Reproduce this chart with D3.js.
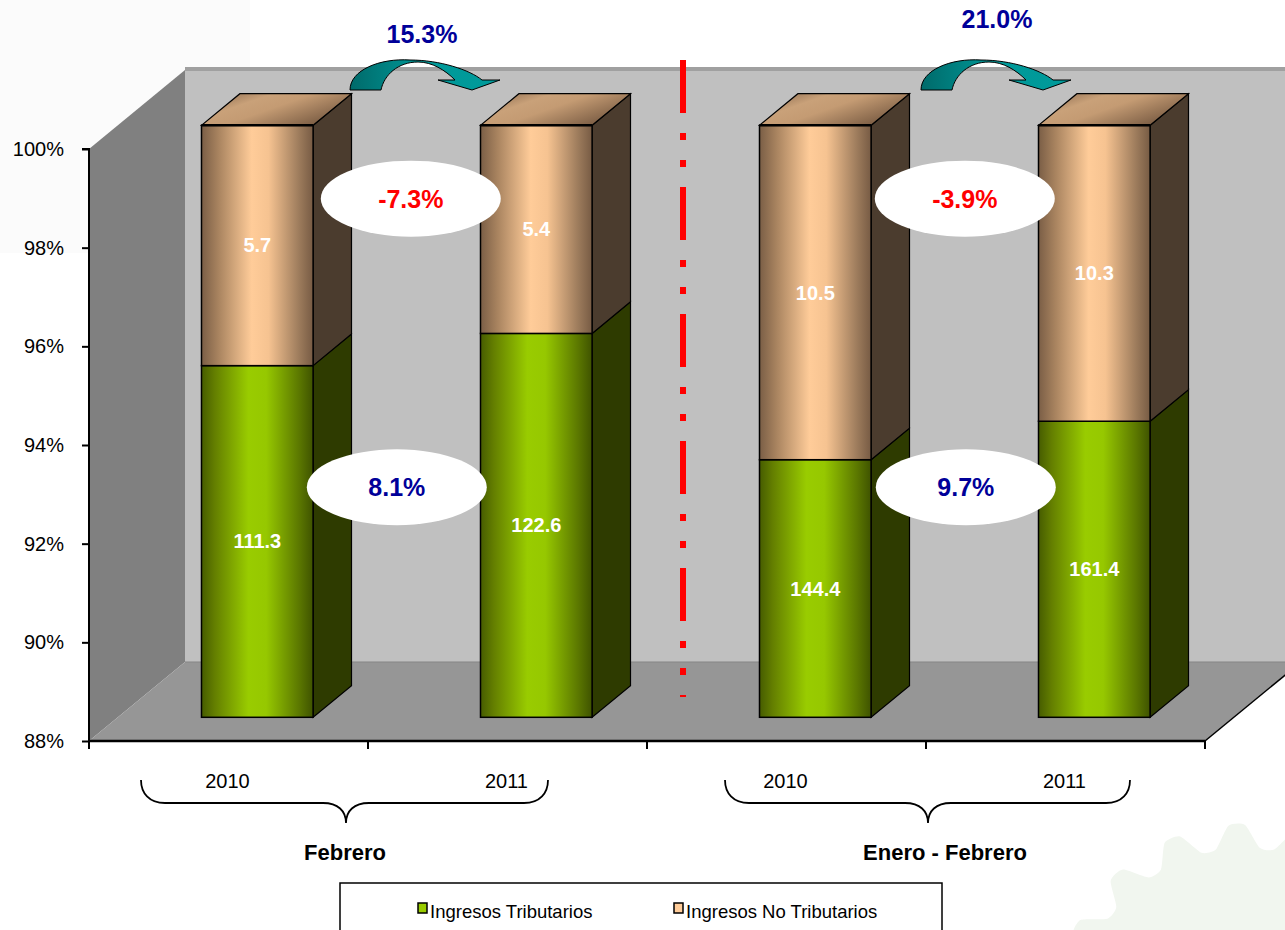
<!DOCTYPE html>
<html>
<head>
<meta charset="utf-8">
<script src="https://cdn.jsdelivr.net/npm/d3@7"></script>
<style>
    html, body { margin: 0; padding: 0; background: #ffffff; }
    svg { display: block; font-family: "Liberation Sans", Arial, sans-serif; }
</style>
</head>
<body>
<svg id="chart" width="1285" height="930"></svg>
<script>
// datos del grafico
const categories = ["2010", "2011", "2010", "2011"];
const groups = ["Febrero", "Enero - Febrero"];
const tributarios = [111.3, 122.6, 144.4, 161.4];
const noTributarios = [5.7, 5.4, 10.5, 10.3];
const yTicks = [88, 90, 92, 94, 96, 98, 100];
const growthTotal = ["15.3%", "21.0%"];
const growthNoTrib = ["-7.3%", "-3.9%"];
const growthTrib = ["8.1%", "9.7%"];
const legendLabels = ["Ingresos Tributarios", "Ingresos No Tributarios"];

let svg = d3.select("#chart");
let defs = svg.append("defs");

// profundidad 3D
const DX = 96, DY = -79;
const FRONT = 0.3, DEPTH = 0.4;

let x = d3.scaleBand().domain(d3.range(categories.length))
    .range([89, 1205]).paddingInner(0.6).paddingOuter(0.3);
let y = d3.scaleLinear().domain([88, 100]).range([741, 149]);
let step = x.step();

//gradientes
function grad(id, stops, x2, y2) {
    let g = defs.append("linearGradient").attr("id", id)
        .attr("x1", 0).attr("y1", 0).attr("x2", x2 || 1).attr("y2", y2 || 0);
    stops.forEach(s => g.append("stop").attr("offset", s[0]).attr("stop-color", s[1]));
}
grad("gGreen", [[0, "#465c00"], [0.12, "#647f00"], [0.42, "#99cc00"], [0.58, "#96c800"], [0.88, "#5a7600"], [1, "#3f5300"]]);
grad("gPeach", [[0, "#7a5e46"], [0.15, "#a8835f"], [0.45, "#ffcc99"], [0.6, "#f6c391"], [0.88, "#9b7a5b"], [1, "#775b44"]]);
grad("gTop", [[0, "#7f6148"], [0.35, "#c9a179"], [0.55, "#c49b73"], [1, "#7b5d44"]], 1, 0.6);
grad("gArrow", [[0, "#006a6a"], [0.5, "#009999"], [1, "#009a9a"]]);

// fondo
svg.append("rect").attr("width", 1285).attr("height", 930).attr("fill", "#ffffff");
svg.append("rect").attr("x", 0).attr("y", 0).attr("width", 250).attr("height", 253).attr("fill", "#fbfbfb");

// marca de agua (engranaje)
let gearC = [1245, 1015], gearR = 190, teeth = 18;
let gearPts = d3.range(teeth * 4).map(k => {
    let a = k / (teeth * 4) * 2 * Math.PI;
    let r = (k % 4 === 1 || k % 4 === 2) ? gearR : gearR - 22;
    return [gearC[0] + r * Math.cos(a), gearC[1] + r * Math.sin(a)];
});
svg.append("path").attr("d", d3.line().curve(d3.curveCardinalClosed.tension(0.4))(gearPts))
    .attr("fill", "#f1f6ef");

let y100 = y(100), y88 = y(88);
let xL = x.range()[0], xR = x.range()[1];

// pared izquierda
svg.append("polygon")
    .attr("points", [[xL, y100], [xL + DX, y100 + DY], [xL + DX, y88 + DY], [xL, y88]].join(" "))
    .attr("fill", "#808080");
// pared del fondo
svg.append("rect").attr("x", xL + DX).attr("y", y100 + DY - 3)
    .attr("width", 1300 - xL - DX).attr("height", y88 - y100 + 3).attr("fill", "#c0c0c0");
svg.append("rect").attr("x", xL + DX).attr("y", y100 + DY - 3)
    .attr("width", 1300 - xL - DX).attr("height", 4).attr("fill", "#a0a0a0");
// piso
svg.append("polygon")
    .attr("points", [[xL, y88], [xL + DX, y88 + DY], [xR + DX, y88 + DY], [xR, y88]].join(" "))
    .attr("fill", "#969696");
svg.append("line").attr("x1", xL + DX).attr("x2", 1285).attr("y1", y88 + DY).attr("y2", y88 + DY)
    .attr("stroke", "#858585").attr("stroke-width", 1);
svg.append("line").attr("x1", xR).attr("y1", y88).attr("x2", xR + DX).attr("y2", y88 + DY)
    .attr("stroke", "#000").attr("stroke-width", 1.5);

// linea divisoria roja
let sepX = xL + 2 * step + DX * 0.375;
svg.append("line").attr("x1", sepX).attr("x2", sepX).attr("y1", y100 + DY - 10).attr("y2", 697)
    .attr("stroke", "#ff0000").attr("stroke-width", 6)
    .attr("stroke-dasharray", "53,20,7,20,7,20");

// ejes
let yAxis = svg.append("g").attr("transform", `translate(${xL},0)`)
    .call(d3.axisLeft(y).tickValues(yTicks).tickFormat(d => d + "%").tickSize(7).tickPadding(18));
yAxis.select(".domain").attr("stroke", "#000").attr("stroke-width", 2).attr("d", `M-7,${y100}H0V${y88}`);
yAxis.selectAll(".tick line").attr("stroke", "#000").attr("stroke-width", 2);
yAxis.selectAll(".tick text").attr("fill", "#000").style("font-size", "20px")
    .style("font-family", "Liberation Sans, Arial, sans-serif");

let xTicks = d3.range(categories.length + 1).map(i => xL + i * (xR - xL) / categories.length);
svg.append("line").attr("x1", xL).attr("x2", xR).attr("y1", y88).attr("y2", y88)
    .attr("stroke", "#000").attr("stroke-width", 2.5);
svg.selectAll(".xtick").data(xTicks).enter().append("line")
    .attr("x1", d => d).attr("x2", d => d).attr("y1", y88).attr("y2", y88 + 8)
    .attr("stroke", "#000").attr("stroke-width", 2);

// barras apiladas 3D
let fx = FRONT * DX, fy = FRONT * DY, sx = DEPTH * DX, sy = DEPTH * DY;
let bars = categories.map((c, i) => {
    let total = tributarios[i] + noTributarios[i];
    let p = tributarios[i] / total * 100;
    return {
        i: i,
        segs: [
            {v0: 88, v1: p, val: tributarios[i], fill: "url(#gGreen)", side: "#2e3b00"},
            {v0: p, v1: 100, val: noTributarios[i], fill: "url(#gPeach)", side: "#4b3c2e"}
        ]
    };
});

let barG = svg.append("g");
bars.forEach(b => {
    let x0 = x(b.i) + fx, x1 = x0 + x.bandwidth();
    let g = barG.append("g");
    b.segs.forEach(s => {
        let yt = y(s.v1) + fy, yb = y(s.v0) + fy;
        g.append("polygon")
            .attr("points", [[x1, yb], [x1 + sx, yb + sy], [x1 + sx, yt + sy], [x1, yt]].join(" "))
            .attr("fill", s.side).attr("stroke", "#000").attr("stroke-width", 1.2);
        g.append("rect").attr("x", x0).attr("y", yt).attr("width", x1 - x0).attr("height", yb - yt)
            .attr("fill", s.fill).attr("stroke", "#000").attr("stroke-width", 1.5);
        g.append("text").attr("x", (x0 + x1) / 2).attr("y", (yt + yb) / 2 + 7)
            .attr("text-anchor", "middle").attr("fill", "#fff")
            .style("font-size", "20px").style("font-weight", "bold")
            .text(s.val.toFixed(1));
    });
    let yt = y(100) + fy;
    g.append("polygon")
        .attr("points", [[x0, yt], [x1, yt], [x1 + sx, yt + sy], [x0 + sx, yt + sy]].join(" "))
        .attr("fill", "url(#gTop)").attr("stroke", "#000").attr("stroke-width", 1.2);
    g.append("line").attr("x1", x0).attr("x2", x1).attr("y1", yt).attr("y2", yt)
        .attr("stroke", "#000").attr("stroke-width", 2.5);
});

// anotaciones de crecimiento
let annoG = svg.append("g");
groups.forEach((gname, k) => {
    let a = x(2 * k) + fx + x.bandwidth() / 2, b = x(2 * k + 1) + fx + x.bandwidth() / 2;
    let mid = (a + b) / 2;
    let upShift = [14, 10][k], lowShift = [0, 11][k];

    annoG.append("ellipse").attr("cx", mid + upShift).attr("cy", y(99) + fy + 24)
        .attr("rx", 90).attr("ry", 38).attr("fill", "#fff");
    annoG.append("text").attr("x", mid + upShift).attr("y", y(99) + fy + 33)
        .attr("text-anchor", "middle").attr("fill", "#ff0000")
        .style("font-size", "25px").style("font-weight", "bold").text(growthNoTrib[k]);

    annoG.append("ellipse").attr("cx", mid + lowShift).attr("cy", y(93.15) + fy + 24)
        .attr("rx", 90).attr("ry", 38).attr("fill", "#fff");
    annoG.append("text").attr("x", mid + lowShift).attr("y", y(93.15) + fy + 33)
        .attr("text-anchor", "middle").attr("fill", "#000099")
        .style("font-size", "25px").style("font-weight", "bold").text(growthTrib[k]);

    // flecha curva
    let ax = [350, 921][k], ay = 90;
    annoG.append("path")
        .attr("transform", `translate(${ax},${ay})`)
        .attr("d", "M0,0 C0,-20 30,-32 60,-30 C90,-30 120,-20 132,-10 L150,-10 L122,0 L88,-10 L105,-10 C95,-20 82,-28 68,-28 C48,-28 34,-15 31,0 Z")
        .attr("fill", "url(#gArrow)").attr("stroke", "#000").attr("stroke-width", 1);
    annoG.append("text").attr("x", ax + [72, 76][k]).attr("y", [43, 28][k])
        .attr("text-anchor", "middle").attr("fill", "#000099")
        .style("font-size", "25px").style("font-weight", "bold").text(growthTotal[k]);
});

// etiquetas de categorias
svg.selectAll(".cat").data(categories).enter().append("text")
    .attr("x", (d, i) => x(i) + x.bandwidth() / 2 - 1)
    .attr("y", 788).attr("text-anchor", "middle").attr("fill", "#000")
    .style("font-size", "20px").text(d => d);

// llaves
let braces = [[141, 548, 346], [725, 1130, 928]];
braces.forEach((br, k) => {
    let [xa, xb, xm] = br;
    let y0 = 780, y1 = 803, y2 = 823;
    let d = `M${xa},${y0} C${xa},${y1 - 10} ${xa + 8},${y1} ${xa + 24},${y1} L${xm - 23},${y1} ` +
        `C${xm - 8},${y1} ${xm},${y1 + 8} ${xm},${y2} C${xm},${y1 + 8} ${xm + 8},${y1} ${xm + 23},${y1} ` +
        `L${xb - 24},${y1} C${xb - 8},${y1} ${xb},${y1 - 10} ${xb},${y0}`;
    svg.append("path").attr("d", d).attr("fill", "none").attr("stroke", "#000").attr("stroke-width", 1.8);
    svg.append("text").attr("x", [345, 945][k]).attr("y", 860).attr("text-anchor", "middle")
        .attr("fill", "#000").style("font-size", "22px").style("font-weight", "bold").text(groups[k]);
});

// leyenda
let legend = svg.append("g");
legend.append("rect").attr("x", 340).attr("y", 883).attr("width", 602).attr("height", 60)
    .attr("fill", "#fff").attr("stroke", "#000").attr("stroke-width", 1.5);
let legendFill = ["#99cc00", "#ffcc99"];
let legendX = [418, 674];
legendLabels.forEach((l, k) => {
    legend.append("rect").attr("x", legendX[k]).attr("y", 903).attr("width", 9).attr("height", 10)
        .attr("fill", legendFill[k]).attr("stroke", "#000").attr("stroke-width", 1.5);
    legend.append("text").attr("x", legendX[k] + 12).attr("y", 918).attr("fill", "#000")
        .style("font-size", "18.5px").text(l);
});
</script>
</body>
</html>
